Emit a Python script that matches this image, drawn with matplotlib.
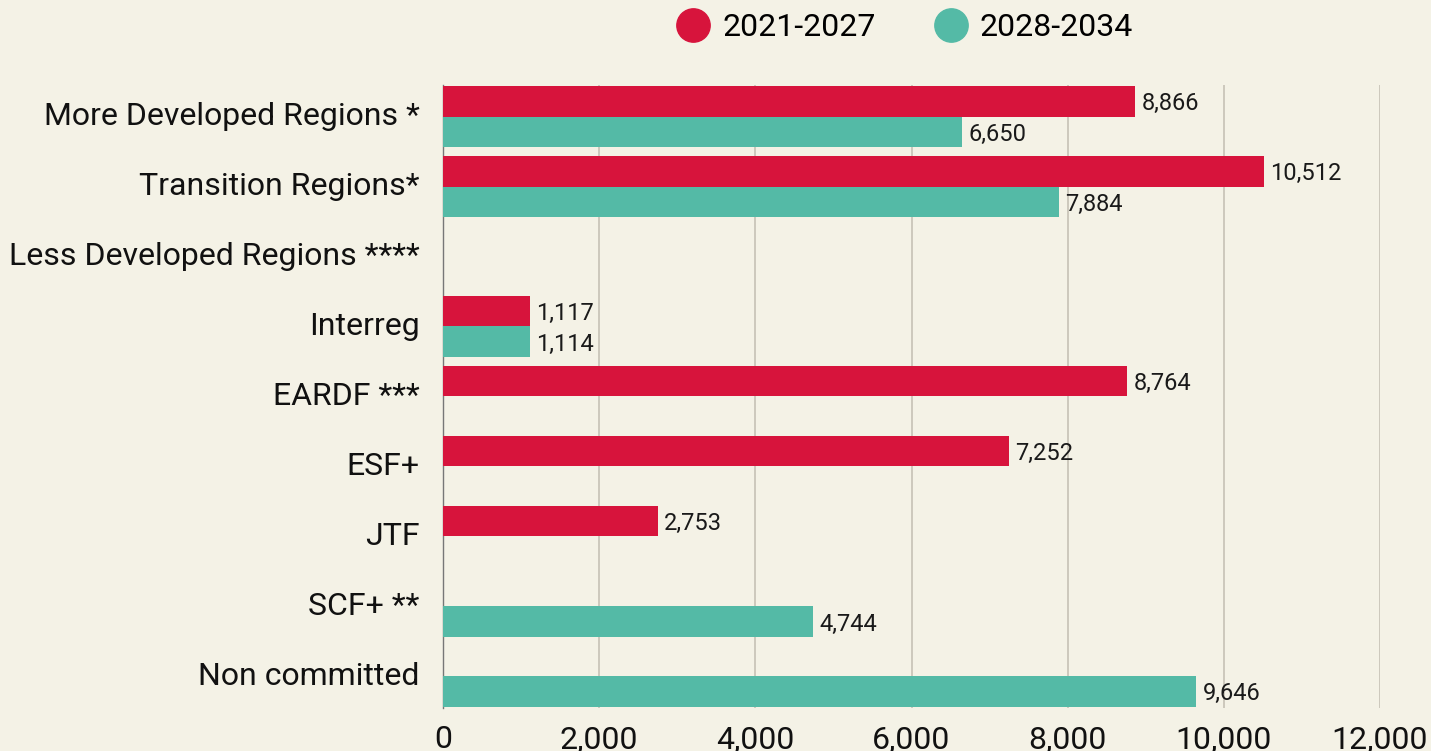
import numpy as np
import matplotlib.pyplot as plt
import matplotlib.transforms as mtransforms
from matplotlib.lines import Line2D

plt.rcParams['font.family'] = ['Roboto', 'DejaVu Sans']

categories = ["More Developed Regions *", "Transition Regions*", "Less Developed Regions ****",
              "Interreg", "EARDF ***", "ESF+", "JTF", "SCF+ **", "Non committed"]
period_a = "2021-2027"
period_b = "2028-2034"
values_a = [8866, 10512, None, 1117, 8764, 7252, 2753, None, None]
values_b = [6650, 7884, None, 1114, None, None, None, 4744, 9646]

red = "#D7143C"
teal = "#54BAA6"
bg = "#F4F2E6"

fig = plt.figure(figsize=(14.31, 7.51), dpi=100, facecolor=bg)
ax = fig.add_axes([0.3096, 0.0573, 0.6548, 0.8295], facecolor=bg)

y = np.arange(len(categories))
h = 0.44

for vals, off, col in [(values_a, -h / 2, red), (values_b, h / 2, teal)]:
    for i, v in enumerate(vals):
        if v is None:
            continue
        ax.barh(y[i] + off, v, height=h, color=col, zorder=3)
        ax.text(v + 80, y[i] + off + 0.03, f"{v:,}", va="center", ha="left",
                fontsize=17, color="#1a1a1a", zorder=4)

ax.set_ylim(len(categories) - 0.55, -0.45)
ax.set_xlim(0, 12000)
ax.set_yticks(y)
ax.set_yticklabels(categories, fontsize=23, color="#111111")
ax.set_xticks(range(0, 12001, 2000))
ax.set_xticklabels([f"{t:,}" for t in range(0, 12001, 2000)], fontsize=23, color="#111111")
ax.tick_params(axis="both", length=0)
ax.tick_params(axis="y", pad=17)
ax.tick_params(axis="x", pad=12)

# nudge category labels up a little
shift = mtransforms.ScaledTranslation(0, 3 / 100, fig.dpi_scale_trans)
for lab in ax.get_yticklabels():
    lab.set_transform(lab.get_transform() + shift)

ax.grid(axis="x", color="#c9c5b9", linewidth=1.3, zorder=0)
for s in ["top", "right", "bottom"]:
    ax.spines[s].set_visible(False)
ax.spines["left"].set_color("#777777")
ax.spines["left"].set_linewidth(1)

handles = [Line2D([], [], marker="o", linestyle="", markersize=24, color=red, label=period_a),
           Line2D([], [], marker="o", linestyle="", markersize=24, color=teal, label=period_b)]
fig.legend(handles=handles, loc="center", bbox_to_anchor=(905 / 1431, 1 - 28 / 751), ncol=2,
           frameon=False, fontsize=23, handlelength=1.0, handletextpad=0.4, columnspacing=1.85)

fig.savefig("out.png", dpi=100, facecolor=bg)
